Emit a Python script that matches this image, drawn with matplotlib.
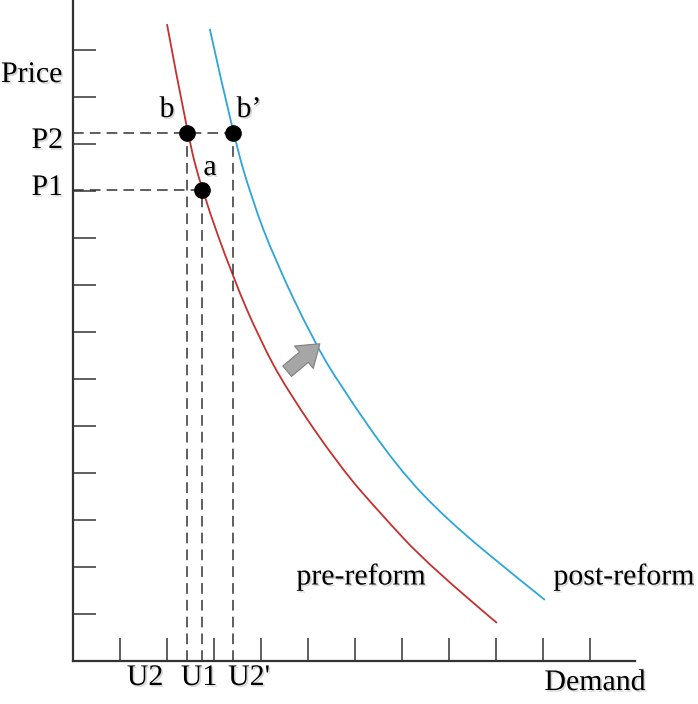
import matplotlib
matplotlib.use("Agg")
import matplotlib.pyplot as plt
import matplotlib.patheffects as pe
from matplotlib.patches import FancyArrowPatch, PathPatch
from matplotlib.path import Path

plt.rcParams["font.family"] = ["Liberation Serif", "DejaVu Serif"]

# curves (x in demand-tick units, y in price-tick units)
PRE_X = [2.00, 2.43, 2.74, 3.40, 3.98, 4.55, 5.68, 6.53, 7.60, 9.02]
PRE_Y = [13.55, 11.23, 10.02, 8.17, 6.83, 5.77, 4.13, 3.15, 2.00, 0.81]
POST_X = [2.91, 3.40, 3.81, 4.30, 5.11, 5.68, 6.89, 7.96, 9.51, 10.04]
POST_Y = [13.45, 11.23, 9.81, 8.53, 6.83, 5.87, 4.13, 3.00, 1.72, 1.30]

# marked points
POINT_NAMES = ["b", "a", "b'"]
POINT_X = [2.43, 2.74, 3.40]
POINT_Y = [11.23, 10.02, 11.23]

Y_TICKS = list(range(1, 14))
X_TICKS = list(range(1, 12))

RED = "#C5302F"
BLUE = "#2BA6DC"
INK = "#333333"

# axes geometry in pixels of the 698x704 picture
X0, Y0, UNIT = 73, 661, 47


def px(x, y):
    """pixel position -> data coords"""
    return (x - X0) / UNIT, (Y0 - y) / UNIT


def smooth_path(xs, ys):
    # quadratic bezier through the midpoints, read points act as controls
    pts = list(zip(xs, ys))
    verts, codes = [pts[0]], [Path.MOVETO]
    for i in range(1, len(pts) - 1):
        end = pts[i + 1] if i == len(pts) - 2 else (
            (pts[i][0] + pts[i + 1][0]) / 2, (pts[i][1] + pts[i + 1][1]) / 2)
        verts += [pts[i], end]
        codes += [Path.CURVE3, Path.CURVE3]
    return Path(verts, codes)


fig = plt.figure(figsize=(6.98, 7.04), dpi=100)
ax = fig.add_axes([X0 / 698, (704 - Y0) / 704, (635 - X0) / 698, Y0 / 704])
ax.set_xlim(0, (635 - X0) / UNIT)
ax.set_ylim(0, Y0 / UNIT)

for xs, ys, c in [(PRE_X, PRE_Y, RED), (POST_X, POST_Y, BLUE)]:
    ax.add_patch(PathPatch(smooth_path(xs, ys), facecolor="none", edgecolor=c,
                           lw=1.3, capstyle="butt"))

# dashed guides
dash = dict(color=INK, lw=1.1, dashes=(7, 4))
for x, y in zip(POINT_X, POINT_Y):
    ax.plot([x, x], [0, y], **dash)
ax.plot([0, POINT_X[2]], [POINT_Y[2], POINT_Y[2]], **dash)
ax.plot([0, POINT_X[1]], [POINT_Y[1], POINT_Y[1]], **dash)

ax.plot(POINT_X, POINT_Y, "o", color="black", ms=11, zorder=5)

# shift arrow
arr = FancyArrowPatch(px(285, 373), px(322, 342),
                      arrowstyle="simple,head_width=1.4,head_length=1.0,tail_width=0.65",
                      mutation_scale=15, facecolor="#A6A6A6", edgecolor="#7F7F7F",
                      lw=0.8, zorder=4)
ax.add_patch(arr)

# axes styling
for s in ["top", "right"]:
    ax.spines[s].set_visible(False)
for s in ["left", "bottom"]:
    ax.spines[s].set_color(INK)
    ax.spines[s].set_linewidth(1.6)
ax.set_xticks(X_TICKS)
ax.set_yticks(Y_TICKS)
ax.tick_params(direction="in", length=16.5, width=1.1, color=INK,
               labelbottom=False, labelleft=False)

shadow = [pe.withSimplePatchShadow(offset=(1.2, -1.2), shadow_rgbFace="#888888", alpha=0.35)]
txt = dict(fontsize=21.5, color="black", clip_on=False, path_effects=shadow)

ax.text(*px(1, 75), "Price", ha="left", va="center", **txt)
ax.text(*px(63, 141), "P2", ha="right", va="center", **txt)
ax.text(*px(63, 188), "P1", ha="right", va="center", **txt)
ax.text(*px(167, 110), "b", ha="center", va="center", **txt)
ax.text(*px(249, 110), "b\u2019", ha="center", va="center", **txt)
ax.text(*px(210, 168), "a", ha="center", va="center", **txt)
ax.text(*px(145, 678), "U2", ha="center", va="center", **txt)
ax.text(*px(199, 678), "U1", ha="center", va="center", **txt)
ax.text(*px(249, 678), "U2'", ha="center", va="center", **txt)
ax.text(*px(595, 683), "Demand", ha="center", va="center", **txt)
ax.text(*px(361, 577), "pre-reform", ha="center", va="center", **txt)
ax.text(*px(624, 577), "post-reform", ha="center", va="center", **txt)

fig.savefig("out.png", dpi=100, facecolor="white")
